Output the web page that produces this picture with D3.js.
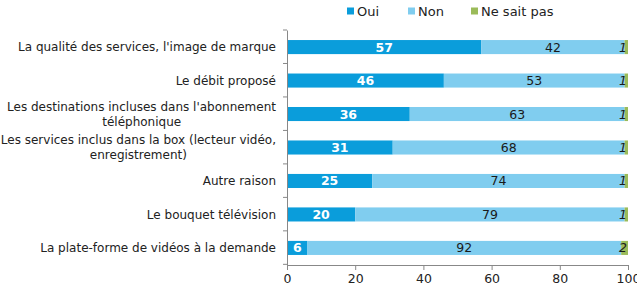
<!DOCTYPE html>
<html>
<head>
<meta charset="utf-8">
<script src="https://cdn.jsdelivr.net/npm/d3@7"></script>
<style>
body { margin: 0; background: #fff; }
text { font-family: "DejaVu Sans", sans-serif; }
</style>
</head>
<body>
<svg id="chart" width="637" height="290"></svg>
<script>
// Data
const categories = [
  "La qualité des services, l'image de marque",
  "Le débit proposé",
  "Les destinations incluses dans l'abonnement|téléphonique",
  "Les services inclus dans la box (lecteur vidéo,|enregistrement)",
  "Autre raison",
  "Le bouquet télévision",
  "La plate-forme de vidéos à la demande"
];
const oui = [57, 46, 36, 31, 25, 20, 6];
const non = [42, 53, 63, 68, 74, 79, 92];
const nsp = [1, 1, 1, 1, 1, 1, 2];
const seriesNames = ["Oui", "Non", "Ne sait pas"];
const colors = ["#0a9ddb", "#80cdef", "#9bbb59"];
const xTicks = [0, 20, 40, 60, 80, 100];

const margin = {top: 30, right: 9, bottom: 25, left: 287};
const width = 637 - margin.left - margin.right;
const height = 290 - margin.top - margin.bottom;

const svg = d3.select("#chart");
const g = svg.append("g").attr("transform", "translate(" + margin.left + "," + margin.top + ")");

const x = d3.scaleLinear().domain([0, 100]).range([0, width]);
const y = d3.scaleBand().domain(categories).range([0, height]).paddingInner(0.58).paddingOuter(0.3);

const rows = categories.map(function(c, i) { return {cat: c, vals: [oui[i], non[i], nsp[i]]}; });

// bars
rows.forEach(function(r) {
  let x0 = 0;
  r.vals.forEach(function(v, k) {
    g.append("rect")
      .attr("x", x(x0))
      .attr("y", y(r.cat))
      .attr("width", x(x0 + v) - x(x0))
      .attr("height", y.bandwidth())
      .attr("fill", colors[k]);
    const cx = k == 2 ? x(x0 + v) - 1 : x(x0 + v / 2);
    g.append("text")
      .attr("x", cx)
      .attr("y", y(r.cat) + y.bandwidth() / 2)
      .attr("dy", "0.36em")
      .attr("text-anchor", k == 2 ? "end" : "middle")
      .attr("font-size", 12.5)
      .attr("font-weight", k == 0 ? "bold" : "normal")
      .attr("font-style", k == 2 ? "italic" : "normal")
      .attr("fill", k == 0 ? "#fff" : "#1a1a1a")
      .text(v);
    x0 += v;
  });
});

// y axis
const yAxis = g.append("g")
  .call(d3.axisLeft(y).tickSize(0).tickFormat(""));
yAxis.select(".domain").attr("stroke", "#888");
const step = y.step();
for (let i = 0; i <= categories.length; i++) {
  g.append("line").attr("x1", -4).attr("x2", 0)
    .attr("y1", i * step).attr("y2", i * step)
    .attr("stroke", "#888");
}

// category labels (two-line labels: second line centred under the first)
rows.forEach(function(r) {
  const lines = r.cat.split("|");
  const cy = y(r.cat) + y.bandwidth() / 2;
  const y0 = cy - (lines.length - 1) * 7.5;
  const first = g.append("text")
    .attr("x", -11).attr("y", y0).attr("dy", "0.36em")
    .attr("font-size", 12).attr("fill", "#222")
    .attr("text-anchor", "end").text(lines[0]);
  if (lines.length > 1) {
    const bb = first.node().getBBox();
    g.append("text")
      .attr("x", bb.x + bb.width / 2).attr("y", y0 + 15).attr("dy", "0.36em")
      .attr("font-size", 12).attr("fill", "#222")
      .attr("text-anchor", "middle").text(lines[1]);
  }
});

// x axis
const xAxis = g.append("g")
  .attr("transform", "translate(0," + height + ")")
  .call(d3.axisBottom(x).tickValues(xTicks).tickSize(5).tickPadding(4));
xAxis.select(".domain").attr("stroke", "#888");
xAxis.selectAll(".tick line").attr("stroke", "#888");
xAxis.selectAll("text").attr("font-size", 12.5).attr("fill", "#222").style("font-family", "DejaVu Sans");

// legend
const legX = [347, 408, 471];
seriesNames.forEach(function(s, k) {
  svg.append("rect").attr("x", legX[k]).attr("y", 7.5).attr("width", 7).attr("height", 7).attr("fill", colors[k]);
  svg.append("text").attr("x", legX[k] + 10).attr("y", 11).attr("dy", "0.36em")
    .attr("font-size", 13).attr("fill", "#222").text(s);
});
</script>
</body>
</html>
